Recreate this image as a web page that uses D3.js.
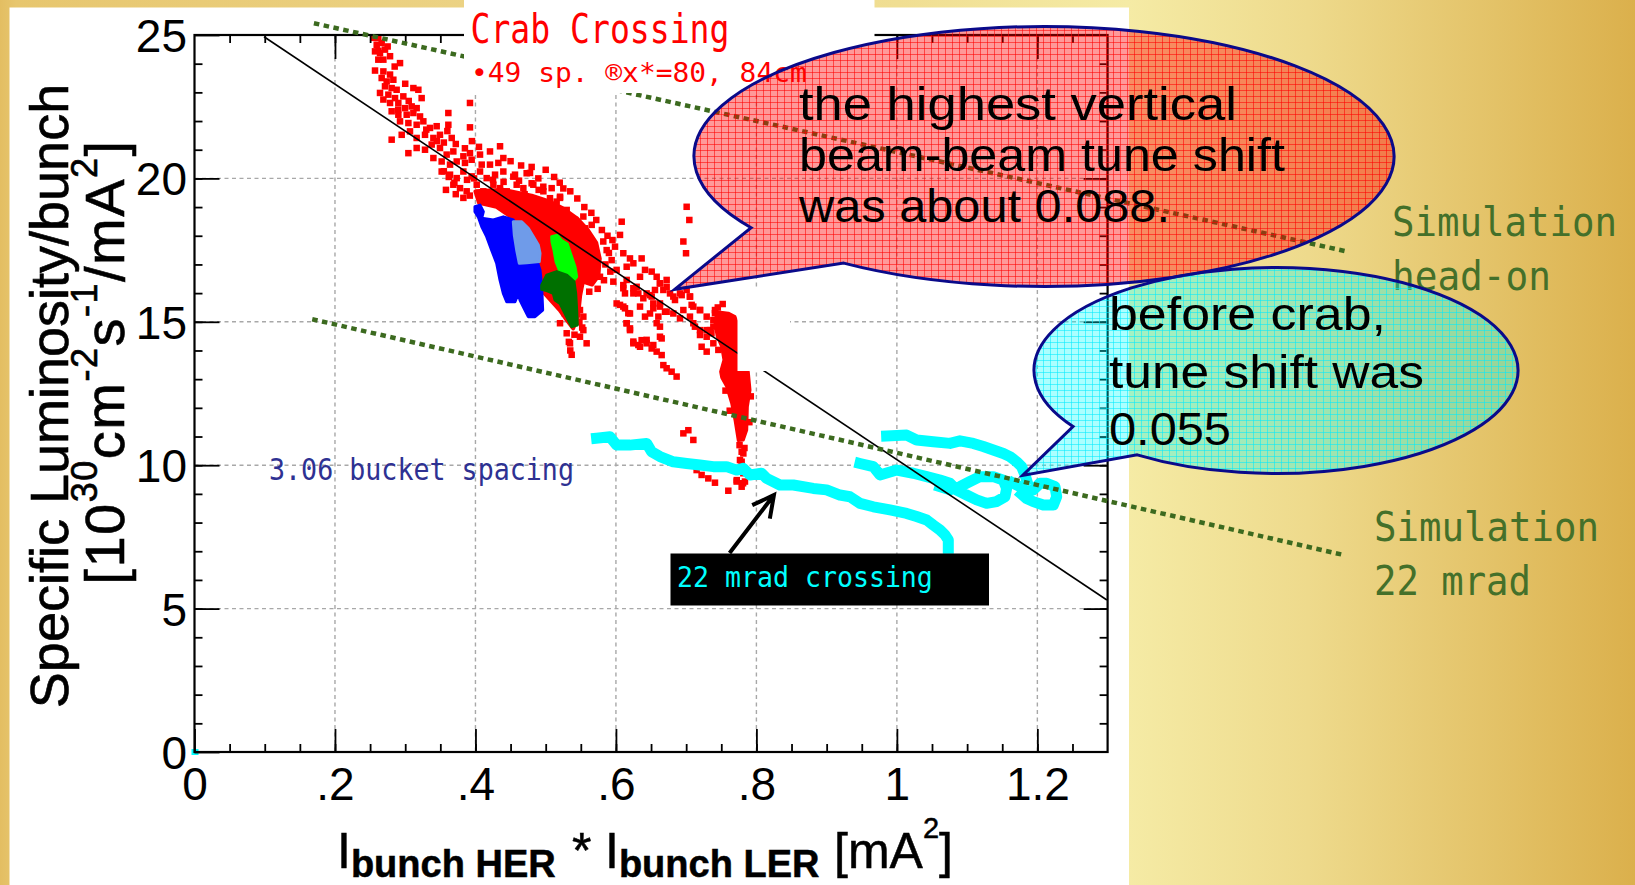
<!DOCTYPE html>
<html>
<head>
<meta charset="utf-8">
<script src="https://cdn.jsdelivr.net/npm/d3@7"></script>
<style>
  html, body { margin: 0; padding: 0; overflow: hidden; background: #fff; }
  svg { display: block; }
</style>
</head>
<body>
<svg id="chart" width="1635" height="885"></svg>
<script>
// ---------- axis ticks ----------
const xTicks = [0, 0.2, 0.4, 0.6, 0.8, 1.0, 1.2];
const yTicks = [0, 5, 10, 15, 20, 25];

// ---------- crab crossing data (49 sp., red) ----------
const redCore = [[0.400,19.55],[0.440,19.60],[0.480,19.40],[0.505,19.20],[0.525,18.95],[0.545,18.60],[0.560,18.20],[0.572,17.75],[0.577,17.20],[0.575,16.60],[0.566,16.30],[0.553,16.40],[0.549,15.90],[0.546,15.18],[0.539,14.77],[0.530,15.06],[0.520,15.41],[0.494,16.11],[0.492,16.81],[0.485,17.85],[0.470,18.38],[0.454,18.61],[0.430,19.01],[0.405,19.15]];
const redStrip = [[0.7435,15.35],[0.7600,15.30],[0.7695,15.18],[0.7728,14.95],[0.7733,13.30],[0.7884,13.26],[0.7909,12.62],[0.7871,12.04],[0.7862,11.23],[0.7813,10.88],[0.7742,10.86],[0.7695,11.58],[0.7648,12.16],[0.7577,12.74],[0.7506,13.06],[0.7491,13.26],[0.7538,13.67],[0.7506,14.13],[0.7443,14.48],[0.7410,14.95]];
const redPoints = [
  [0.2546,24.90],[0.2617,24.90],[0.2594,24.66],[0.2665,24.72],[0.2570,24.43],[0.2641,24.37],[0.2712,24.49],[0.2784,24.26],[0.2689,24.14],[0.2617,24.14],
  [0.2926,24.02],[0.2570,23.76],[0.2689,23.73],[0.2784,23.62],[0.2665,23.50],[0.2736,23.38],[0.2831,23.44],[0.2712,23.21],[0.2807,23.15],[0.2878,23.09],
  [0.2641,22.98],[0.2760,22.92],[0.2855,22.80],[0.2973,22.86],[0.3116,23.15],[0.3187,23.09],[0.3234,22.80],[0.2689,22.75],[0.2784,22.63],[0.2902,22.63],
  [0.2997,22.45],[0.3092,22.51],[0.3163,22.45],[0.2807,22.34],[0.2902,22.22],[0.3021,22.22],[0.3116,22.28],[0.3211,22.16],[0.2926,21.99],[0.3045,21.93],
  [0.3163,21.87],[0.3258,21.99],[0.3353,21.76],[0.3448,21.82],[0.3614,22.28],[0.3614,21.87],[0.2807,21.35],[0.2950,21.52],[0.3068,21.64],[0.3163,21.41],
  [0.3282,21.52],[0.3401,21.41],[0.3495,21.52],[0.3662,21.41],[0.3045,20.88],[0.3163,21.06],[0.3282,21.00],[0.3377,21.18],[0.3495,21.06],[0.3590,20.83],
  [0.3685,20.94],[0.3828,20.77],[0.3922,20.88],[0.4065,20.83],[0.4207,20.94],[0.4350,21.12],[0.3401,20.71],[0.3519,20.59],[0.3638,20.48],[0.3733,20.59],
  [0.3851,20.54],[0.3946,20.65],[0.4089,20.48],[0.4207,20.48],[0.4326,20.54],[0.4397,20.71],[0.3519,20.24],[0.3638,20.13],[0.3733,20.01],[0.3828,20.24],
  [0.3946,20.07],[0.4065,20.24],[0.4160,20.01],[0.4279,20.13],[0.4397,20.24],[0.4563,20.13],[0.4777,20.19],[0.3685,19.78],[0.3780,19.66],[0.3875,19.55],
  [0.4018,19.78],[0.4112,19.55],[0.4255,19.78],[0.4350,19.66],[0.4445,19.55],[0.4587,19.78],[0.4682,19.66],[0.4824,19.78],[0.4967,19.55],[0.5085,19.66],
  [0.5204,19.32],[0.3828,19.32],[0.3922,22.63],[0.3922,21.78],
  [0.4539,20.06],[0.4729,20.18],[0.4800,19.83],[0.4895,20.00],[0.4966,19.71],[0.5061,19.31],[0.5156,19.19],[0.5204,19.36],[0.5251,19.65],[0.5109,19.01],
  [0.5299,18.90],[0.5417,18.55],[0.5536,18.67],[0.5441,18.26],[0.5560,18.26],[0.5655,18.38],[0.5488,17.97],[0.5607,17.80],[0.5678,17.62],[0.5820,17.80],
  [0.5868,17.50],[0.5987,17.62],[0.6082,18.49],[0.6058,18.03],[0.5939,17.15],[0.6105,17.39],[0.6200,17.21],[0.6010,16.81],[0.6153,16.92],[0.6248,17.04],
  [0.6366,17.21],[0.6414,16.81],[0.6343,16.57],[0.6509,16.75],[0.6580,16.57],[0.6627,16.34],[0.6675,16.11],[0.6722,16.46],[0.6105,16.17],[0.6153,16.46],
  [0.6248,15.99],[0.6295,16.22],[0.6437,15.99],[0.6509,15.88],[0.6010,15.64],[0.6105,15.53],[0.6176,15.30],[0.6343,15.53],[0.6414,15.18],[0.6532,15.64],
  [0.6627,15.64],[0.6699,15.35],[0.6817,15.88],[0.6912,15.99],[0.7054,15.88],[0.7102,15.53],[0.7197,15.41],[0.7292,15.18],[0.7410,15.30],[0.7529,15.06],
  [0.7577,14.83],[0.7671,14.95],[0.7719,14.60],[0.7387,14.83],[0.7292,14.71],[0.7197,14.54],[0.7102,14.95],[0.6580,14.95],[0.6627,14.48],[0.6153,14.95],
  [0.6200,14.71],[0.6248,14.25],[0.6343,14.13],[0.6437,14.37],[0.6532,14.19],[0.5536,14.71],[0.5488,14.48],[0.5583,14.25],[0.5204,14.95],[0.5299,14.60],
  [0.5346,14.25],[0.7007,19.01],[0.7045,18.55],[0.6960,17.80],[0.6998,17.39],[0.5488,15.41],[0.5536,15.18],[0.5773,16.57],[0.5726,16.81],
  [0.5963,16.40],[0.6105,16.28],[0.6248,16.17],[0.6319,15.99],[0.6129,15.99],[0.6390,15.82],[0.6485,15.93],[0.6556,16.11],[0.6627,16.34],[0.6722,16.22],
  [0.6770,15.99],[0.6841,15.76],[0.6936,15.93],[0.7007,16.11],[0.7054,15.88],[0.7078,15.59],[0.7197,15.41],[0.6960,15.41],[0.6817,15.29],[0.6722,15.35],
  [0.6627,15.53],[0.6532,15.47],[0.6485,15.29],[0.6604,15.18],[0.6912,15.12],[0.7054,15.18],[0.7125,14.83],[0.7197,14.71],[0.7292,14.48],[0.7387,14.25],
  [0.7458,14.02],[0.7339,14.71],[0.7410,15.41],[0.7387,15.06],[0.6058,15.59],[0.6129,15.47],[0.6200,15.29],[0.6153,14.95],[0.6200,14.77],[0.6248,14.31],
  [0.6319,14.19],[0.6366,14.36],[0.6437,14.25],[0.6509,14.07],[0.6580,13.96],[0.6651,13.84],[0.6627,14.83],[0.6651,14.42],[0.6675,13.49],[0.6722,13.38],
  [0.6793,13.26],[0.6864,13.09],[0.7220,14.13],[0.7292,13.96],[0.6960,11.11],[0.7031,11.22],[0.7102,10.88],[0.7814,10.41],[0.7790,10.12],[0.7814,9.72],
  [0.7149,9.83],[0.7220,9.66],[0.7315,9.54],[0.7410,9.39],[0.7600,9.11],[0.7719,9.43],[0.7837,9.43],[0.7790,9.25],
  [0.7450,15.50],[0.7520,15.62],[0.7360,14.60],[0.7800,12.90],[0.7920,12.40],[0.7560,12.60],[0.7620,11.90],[0.7900,11.50],[0.7760,10.70],[0.7830,10.60],
  [0.7790,10.47],[0.7766,10.18],[0.7720,9.48],[0.7810,9.37],[0.5350,14.00],[0.5370,13.85],[0.5330,14.30],
  [0.355,20.25],[0.362,20.05],[0.370,19.85],[0.358,19.60],[0.372,19.45],[0.392,19.40],[0.500,20.30],[0.512,20.05],[0.520,19.85],[0.535,19.55],
  [0.545,19.30],[0.465,20.45],[0.450,20.60],[0.480,20.40],[0.555,19.00],[0.565,18.80],[0.572,18.55],[0.580,18.20],[0.588,18.00],[0.595,17.85],
  [0.590,17.40],[0.585,17.00],[0.592,16.75],[0.583,16.45],[0.574,16.15],[0.562,16.05],[0.548,15.00],[0.552,14.80],[0.541,14.55],[0.527,15.30],
  [0.522,15.60],[0.330,21.70],[0.345,21.30],[0.355,21.25],[0.360,21.65],[0.372,21.20],[0.385,21.05],[0.395,21.30],[0.405,21.10],[0.300,23.30],
  [0.305,22.70],[0.290,22.40],[0.285,23.90],[0.275,24.60],[0.262,24.45],
  [0.398,20.00],[0.425,19.95],[0.440,19.88],[0.462,19.92],[0.470,19.45],[0.490,19.60],[0.412,19.30],[0.388,19.95]
];

// ---------- 3.06 bucket spacing clusters ----------
const blueCluster = [[0.3993,19.01],[0.4065,19.07],[0.4112,18.84],[0.4089,18.61],[0.4254,18.55],[0.4397,18.66],[0.4539,18.55],[0.4563,17.97],[0.4587,17.39],[0.4610,17.15],[0.4730,17.10],[0.4872,17.15],[0.4919,16.81],[0.4943,16.22],[0.4957,15.41],[0.4848,15.18],[0.4752,15.18],[0.4705,15.41],[0.4634,15.76],[0.4610,15.99],[0.4563,15.70],[0.4445,15.70],[0.4397,15.99],[0.4349,16.46],[0.4302,17.04],[0.4231,17.50],[0.4160,17.97],[0.4089,18.32],[0.4040,18.66],[0.3993,18.84]];
const lightBlueCluster = [[0.4539,18.49],[0.4658,18.49],[0.4752,18.26],[0.4823,17.97],[0.4895,17.68],[0.4919,17.39],[0.4909,17.10],[0.4730,17.06],[0.4624,17.04],[0.4587,17.50],[0.4553,18.03]];
const greenCluster = [[0.5085,17.97],[0.5165,18.02],[0.5228,17.83],[0.5308,17.71],[0.5356,17.36],[0.5417,16.92],[0.5441,16.57],[0.5393,16.43],[0.5289,16.63],[0.5204,16.75],[0.5147,17.10],[0.5118,17.50],[0.5090,17.79]];
const darkGreenCluster = [[0.4943,16.28],[0.5014,16.63],[0.5157,16.75],[0.5299,16.63],[0.5403,16.40],[0.5427,15.99],[0.5441,15.41],[0.5450,14.89],[0.5370,14.83],[0.5322,15.06],[0.5251,15.41],[0.5204,15.64],[0.5132,15.76],[0.5108,15.99],[0.5023,16.08],[0.4943,16.13]];

// ---------- 22 mrad crossing data (cyan) ----------
const cyanLow = [[0.5725,10.94],[0.5915,10.99],[0.6010,10.70],[0.6200,10.70],[0.6437,10.76],[0.6508,10.47],[0.6627,10.30],[0.6817,10.12],[0.7007,10.06],[0.7196,10.01],[0.7386,9.95],[0.7576,9.95],[0.7718,9.83],[0.7813,9.89],[0.7908,9.66],[0.8074,9.72],[0.8145,9.54],[0.8335,9.31],[0.8525,9.31],[0.8810,9.19],[0.8999,9.14],[0.9189,8.96],[0.9332,8.90],[0.9475,8.67],[0.9665,8.55],[0.9902,8.44],[1.0139,8.32],[1.0281,8.21],[1.0424,8.09],[1.0519,7.91],[1.0614,7.74],[1.0685,7.57],[1.0732,7.39],[1.0732,7.10]];
const cyanTop = [[0.9854,11.02],[1.0139,11.05],[1.0281,10.88],[1.0519,10.82],[1.0756,10.76],[1.0898,10.85],[1.1088,10.76],[1.1231,10.65],[1.1373,10.53],[1.1516,10.41],[1.1610,10.30],[1.1705,10.12],[1.1776,9.95],[1.1824,9.66],[1.1847,9.48]];
const cyanLoop = [[0.9475,10.06],[0.9665,9.95],[0.9759,9.66],[0.9997,9.83],[1.0234,9.72],[1.0424,9.60],[1.0614,9.48],[1.0756,9.37],[1.0851,9.13],[1.0993,8.96],[1.1136,8.79],[1.1278,8.67],[1.1420,8.73],[1.1539,8.90],[1.1563,9.19],[1.1515,9.48],[1.1373,9.60],[1.1183,9.60],[1.1041,9.43],[1.0898,9.25],[1.0756,9.14],[1.0614,9.25]];
const cyanLobe = [[1.1658,9.37],[1.1753,9.25],[1.1847,9.08],[1.1942,9.14],[1.2037,9.37],[1.2132,9.37],[1.2251,9.25],[1.2275,8.90],[1.2227,8.61],[1.2085,8.61],[1.1942,8.73],[1.1847,8.84],[1.1776,8.99]];
const cyanOrigin = [[0.0, 0.0]];

// ---------- reference lines ----------
const fitLine = [[0.099, 24.94], [1.299, 5.30]];
const simHeadOn = [[0.170, 25.41], [1.643, 17.44]];
const sim22mrad = [[0.1676, 15.09], [1.636, 6.87]];
const arrow22 = [[0.7618, 6.94], [0.825, 8.96]];

// ---------- layout ----------
const W = 1635, H = 885;
const svg = d3.select("#chart");
const x = d3.scaleLinear().domain([0, 1.3]).range([194.5, 1107.6]);
const y = d3.scaleLinear().domain([0, 25]).range([752, 35]);
const line = d3.line().x(d => x(d[0])).y(d => y(d[1]));
const closed = d3.line().x(d => x(d[0])).y(d => y(d[1])).curve(d3.curveLinearClosed);

const defs = svg.append("defs");
const bg = defs.append("linearGradient").attr("id", "bg")
  .attr("gradientUnits", "userSpaceOnUse").attr("x1", 0).attr("x2", W).attr("y1", 0).attr("y2", 0);
[[0, "#e3be62"], [0.01, "#e7c66e"], [0.3, "#ecd385"], [0.55, "#f0de92"], [0.69, "#f5eba5"], [0.8, "#eeda8c"], [1, "#dbb04c"]]
  .forEach(s => bg.append("stop").attr("offset", s[0]).attr("stop-color", s[1]));

function mesh(id, fill, lineCol) {
  const p = defs.append("pattern").attr("id", id).attr("patternUnits", "userSpaceOnUse")
    .attr("width", 7).attr("height", 6);
  p.append("rect").attr("width", 7).attr("height", 6).attr("fill", fill);
  p.append("path").attr("d", "M0,0.5H7M0.5,0V6").attr("stroke", lineCol).attr("stroke-width", 1).attr("fill", "none");
}
mesh("redMesh", "rgba(255,0,0,0.40)", "rgba(255,0,0,0.55)");
mesh("cyanMesh", "rgba(0,255,255,0.33)", "rgba(0,235,255,0.55)");

// background + white panel
svg.append("rect").attr("width", W).attr("height", H).attr("fill", "url(#bg)");
svg.append("rect").attr("x", 9.5).attr("y", 7.5).attr("width", 1129 - 9.5).attr("height", H).attr("fill", "#fff");

// grid
const grid = svg.append("g").attr("stroke", "#a8a8a8").attr("stroke-width", 1.4).attr("stroke-dasharray", "4,3.5");
grid.selectAll(".gx").data(xTicks.filter(d => d > 0)).join("line")
  .attr("x1", d => x(d)).attr("x2", d => x(d)).attr("y1", y(25)).attr("y2", y(0));
grid.selectAll(".gy").data(yTicks.filter(d => d > 0 && d < 25)).join("line")
  .attr("y1", d => y(d)).attr("y2", d => y(d)).attr("x1", x(0)).attr("x2", x(1.3));

// data
const marks = svg.append("g");
marks.append("path").attr("d", closed(redCore)).attr("fill", "#ff0000").attr("stroke", "#ff0000").attr("stroke-width", 4).attr("stroke-linejoin", "round");
marks.append("path").attr("d", closed(redStrip)).attr("fill", "#ff0000").attr("stroke", "#ff0000").attr("stroke-width", 3).attr("stroke-linejoin", "round");
const sq = 6.5;
marks.selectAll(".rp").data(redPoints).join("rect")
  .attr("x", d => x(d[0]) - sq / 2).attr("y", d => y(d[1]) - sq / 2)
  .attr("width", sq).attr("height", sq).attr("fill", "#ff0000");
[[blueCluster, "#0000ff"], [lightBlueCluster, "#6f9be9"], [greenCluster, "#00ff00"], [darkGreenCluster, "#007000"]]
  .forEach(([pts, c]) => marks.append("path").attr("d", closed(pts)).attr("fill", c)
    .attr("stroke", c).attr("stroke-width", 3).attr("stroke-linejoin", "round"));
[cyanLow, cyanTop, cyanLoop, cyanLobe].forEach(pts =>
  marks.append("path").attr("d", line(pts)).attr("fill", "none").attr("stroke", "#00ffff")
    .attr("stroke-width", 11).attr("stroke-linejoin", "round").attr("stroke-linecap", "square"));
marks.selectAll(".co").data(cyanOrigin).join("rect")
  .attr("x", d => x(d[0]) - 3).attr("y", d => y(d[1]) - 3).attr("width", 7).attr("height", 6).attr("fill", "#00ffff");

// fit line
svg.append("path").attr("d", line(fitLine)).attr("stroke", "#000").attr("stroke-width", 1.6).attr("fill", "none");

// blank patch over the fit line
svg.append("rect").attr("x", 737.5).attr("y", 290).attr("width", 52.5).attr("height", 81).attr("fill", "#fff");

// axes
const fmt = d => d === 0 ? "0" : (d < 1 ? d3.format(".1f")(d).replace(/^0/, "") : d3.format("~g")(d));
const xMinor = d3.range(0, 26).map(i => i * 0.05).filter(v => v > 0 && v < 1.3);
const yMinor = d3.range(1, 25);
const axes = svg.append("g");
function tickG(axis, tx, ty) {
  const g = axes.append("g").attr("transform", `translate(${tx},${ty})`).call(axis);
  g.select(".domain").remove();
  g.selectAll("line").attr("stroke", "#000").attr("stroke-width", 1.8);
  return g;
}
tickG(d3.axisBottom(x).tickValues(xMinor).tickSize(-8).tickSizeOuter(0).tickFormat(""), 0, y(0));
tickG(d3.axisTop(x).tickValues(xMinor).tickSize(-8).tickSizeOuter(0).tickFormat(""), 0, y(25));
tickG(d3.axisLeft(y).tickValues(yMinor).tickSize(-8).tickSizeOuter(0).tickFormat(""), x(0), 0);
tickG(d3.axisRight(y).tickValues(yMinor).tickSize(-8).tickSizeOuter(0).tickFormat(""), x(1.3), 0);
tickG(d3.axisTop(x).tickValues(xTicks.slice(1)).tickSize(-24).tickSizeOuter(0).tickFormat(""), 0, y(25));
tickG(d3.axisRight(y).tickValues(yTicks.slice(1, 5)).tickSize(-24).tickSizeOuter(0).tickFormat(""), x(1.3), 0);
const xb = tickG(d3.axisBottom(x).tickValues(xTicks).tickSize(-23).tickSizeOuter(0).tickPadding(15.5).tickFormat(fmt), 0, y(0));
const yl = tickG(d3.axisLeft(y).tickValues(yTicks).tickSize(-25).tickSizeOuter(0).tickPadding(7.5).tickFormat(d3.format("d")), x(0), 0);
[xb, yl].forEach(g => g.selectAll("text").attr("font-family", "'Liberation Sans', Arial, sans-serif")
  .attr("font-size", 46).attr("fill", "#000"));
yl.selectAll("text").attr("dy", "0.36em");
axes.append("rect").attr("x", x(0)).attr("y", y(25)).attr("width", x(1.3) - x(0)).attr("height", y(0) - y(25))
  .attr("fill", "none").attr("stroke", "#000").attr("stroke-width", 2.2);

// simulation lines
[simHeadOn, sim22mrad].forEach(pts => svg.append("path").attr("d", line(pts)).attr("fill", "none")
  .attr("stroke", "#3c6a1f").attr("stroke-width", 4.5).attr("stroke-dasharray", "5.5,4.5"));

// axis titles
const sans = "'Liberation Sans', Arial, Helvetica, sans-serif";
svg.append("text").attr("transform", "translate(68,396) rotate(-90)").attr("text-anchor", "middle")
  .attr("font-family", sans).attr("font-size", 54).attr("fill", "#000")
  .attr("stroke", "#000").attr("stroke-width", 0.6).text("Specific Luminosity/bunch");
const yt2 = svg.append("text").attr("transform", "translate(124,362) rotate(-90)").attr("text-anchor", "middle")
  .attr("font-family", sans).attr("font-size", 56).attr("fill", "#000").attr("letter-spacing", 1.5)
  .attr("stroke", "#000").attr("stroke-width", 0.6);
[["[10", 0, 56], ["30", -27, 36], ["cm", 27, 56], ["-2", -27, 36], ["s", 27, 56], ["-1", -27, 36], ["/mA", 27, 56], ["2", -27, 36], ["]", 27, 56]]
  .forEach(([t, dy, fs]) => yt2.append("tspan").attr("dy", dy).attr("font-size", fs).text(t));

const xt = svg.append("text").attr("y", 868).attr("font-family", sans).attr("font-size", 50).attr("fill", "#000")
  .attr("stroke", "#000").attr("stroke-width", 0.5);
xt.append("tspan").attr("x", 337).text("I");
xt.append("tspan").attr("dy", 9).attr("font-size", 38).attr("font-weight", "bold").text("bunch HER");
xt.append("tspan").attr("x", 572).attr("dy", -9).text("*");
xt.append("tspan").attr("x", 605).text("I");
xt.append("tspan").attr("dy", 9).attr("font-size", 38).attr("font-weight", "bold").text("bunch LER");
xt.append("tspan").attr("x", 834).attr("dy", -9).text("[mA");
xt.append("tspan").attr("dy", -30).attr("font-size", 29).text("2");
xt.append("tspan").attr("dy", 30).text("]");

// text placed at a baseline and fitted horizontally to a given width
const mono = "'DejaVu Sans Mono', 'Liberation Mono', monospace";
function label(t, px, py, fs, len, col, fam) {
  const el = svg.append("text").attr("font-family", fam || mono).attr("font-size", fs)
    .attr("fill", col).text(t);
  const w = el.node().getComputedTextLength() || len;
  el.attr("transform", `translate(${px},${py}) scale(${len / w},1)`);
  return el;
}

// crab crossing heading
svg.append("rect").attr("x", 464).attr("y", 0).attr("width", 410.5).attr("height", 93).attr("fill", "#fff");
label("Crab Crossing", 470.5, 43.3, 41, 259, "#ff0000");
label("\u202249 sp. \u00aex*=80, 84cm", 471, 81.7, 27, 336, "#ff0000");

// bucket spacing note
label("3.06 bucket spacing", 269, 480, 30, 305, "#2e3192");

// 22 mrad label with arrow
svg.append("rect").attr("x", 670.5).attr("y", 553.5).attr("width", 318.5).attr("height", 52).attr("fill", "#000");
label("22 mrad crossing", 677, 587, 28, 256, "#00ffff");
{
  const [p0, p1] = arrow22.map(d => [x(d[0]), y(d[1])]);
  const ang = Math.atan2(p1[1] - p0[1], p1[0] - p0[0]);
  const hl = 24, hw = 0.48;
  const h1 = [p1[0] - hl * Math.cos(ang - hw), p1[1] - hl * Math.sin(ang - hw)];
  const h2 = [p1[0] - hl * Math.cos(ang + hw), p1[1] - hl * Math.sin(ang + hw)];
  svg.append("path").attr("d", `M${p0}L${p1}M${h1}L${p1}L${h2}`).attr("fill", "none")
    .attr("stroke", "#000").attr("stroke-width", 4).attr("stroke-linejoin", "miter");
}

// simulation labels
const simCol = "#44702a";
label("Simulation", 1392, 236, 41, 225, simCol);
label("head-on", 1392, 290, 41, 159, simCol);
label("Simulation", 1374, 541, 41, 225, simCol);
label("22 mrad", 1374, 595, 41, 157, simCol);

// callouts
function callout(cx, cy, rx, ry, a0, a1, tip, fill) {
  const A = [cx + rx * Math.cos(a0), cy + ry * Math.sin(a0)];
  const B = [cx + rx * Math.cos(a1), cy + ry * Math.sin(a1)];
  svg.append("path")
    .attr("d", `M${A}A${rx},${ry} 0 1 1 ${B}L${tip}Z`)
    .attr("fill", fill).attr("stroke", "#0a0a8a").attr("stroke-width", 3).attr("stroke-linejoin", "miter");
}
const deg = Math.PI / 180;
callout(1044, 156.5, 350, 130, 146.8 * deg, 124.9 * deg, [674.7, 289.3], "url(#redMesh)");
label("the highest vertical", 799, 120, 47, 438, "#000", sans);
label("beam-beam tune shift", 799, 170.7, 47, 486, "#000", sans);
label("was about 0.088.", 799, 221.7, 47, 371, "#000", sans);

callout(1276, 370.5, 242, 103, 147 * deg, 125 * deg, [1022.6, 475.5], "url(#cyanMesh)");
label("before crab,", 1109, 330, 47, 277, "#000", sans);
label("tune shift was", 1109, 388, 47, 315, "#000", sans);
label("0.055", 1109, 445, 47, 122, "#000", sans);
</script>
</body>
</html>
